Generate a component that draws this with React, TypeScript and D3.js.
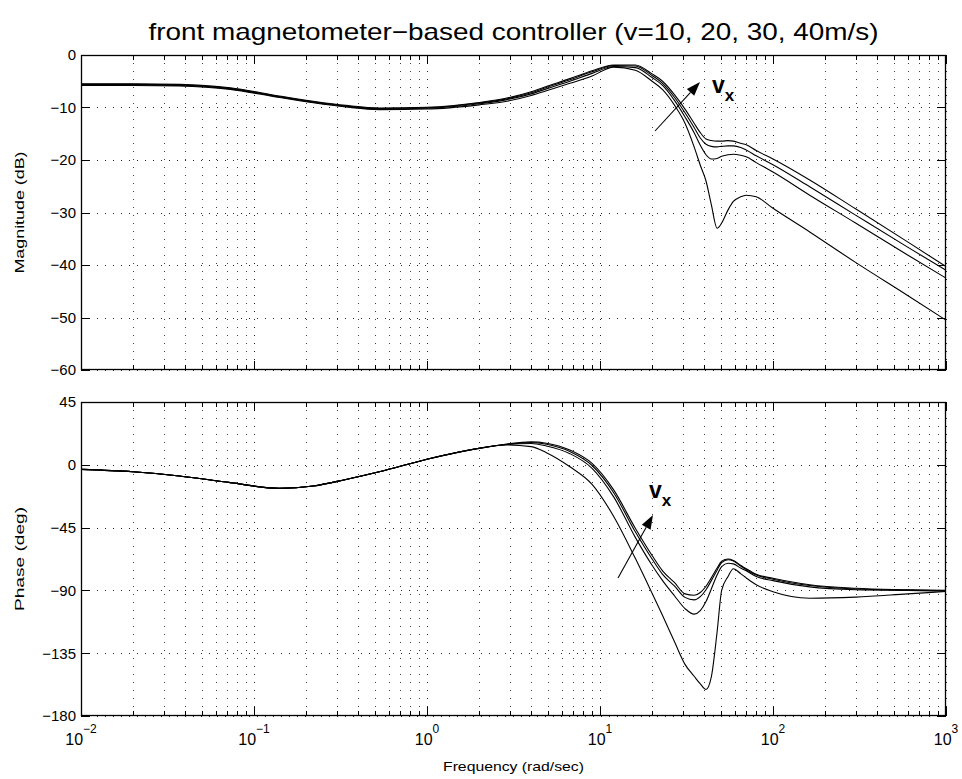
import React from "react";
import * as d3 from "d3";

const title = "front magnetometer\u2212based controller (v=10, 20, 30, 40m/s)";
const xLabel = "Frequency (rad/sec)";
const magLabel = "Magnitude (dB)";
const phLabel = "Phase (deg)";

const freqs = [0.01, 0.02, 0.037, 0.073, 0.14, 0.22, 0.34, 0.53, 1, 2, 2.9, 4, 4.9, 6.7, 9, 12, 16, 20, 23, 27, 31, 35, 38, 41, 44, 47.5, 50.5, 55, 59, 65, 70, 80, 100, 163, 300, 600, 1000];

const magV40 = [-5.5, -5.5, -5.6, -6.25, -7.8, -8.8, -9.6, -10.1, -9.95, -9.05, -8.2, -7.0, -6.0, -4.5, -3.0, -1.9, -1.9, -3.6, -5.0, -7.6, -10.3, -13.0, -14.8, -16.0, -16.3, -16.4, -16.4, -16.3, -16.4, -16.8, -17.1, -18.2, -19.8, -23.8, -29.3, -35.6, -40.3];
const magV30 = [-5.6, -5.6, -5.7, -6.35, -7.9, -8.9, -9.7, -10.2, -10.05, -9.15, -8.35, -7.2, -6.2, -4.7, -3.2, -2.0, -2.1, -3.9, -5.4, -8.1, -11.0, -13.8, -15.8, -17.0, -17.4, -17.5, -17.4, -17.3, -17.3, -17.6, -18.1, -19.2, -20.9, -25.1, -30.5, -36.6, -41.0];
const magV20 = [-5.7, -5.7, -5.8, -6.45, -8.0, -9.0, -9.8, -10.3, -10.15, -9.3, -8.5, -7.4, -6.45, -5.0, -3.5, -2.2, -2.4, -4.3, -5.8, -8.7, -11.8, -14.8, -17.2, -19.0, -19.8, -19.7, -19.3, -19.0, -18.9, -19.1, -19.4, -20.5, -22.3, -26.7, -32.0, -38.1, -42.5];
const magV10 = [-5.8, -5.8, -5.9, -6.55, -8.1, -9.1, -9.9, -10.4, -10.3, -9.5, -8.8, -7.7, -6.8, -5.4, -4.0, -2.3, -2.9, -5.0, -6.6, -9.6, -13.0, -17.5, -21.0, -24.0, -28.5, -33.0, -32.0, -29.5, -27.9, -27.0, -26.7, -27.0, -29.2, -33.7, -39.5, -45.8, -50.5];

const phV40 = [-3.3, -5, -8, -12.8, -16.9, -15.2, -10.5, -5.0, 4.0, 11.8, 14.9, 16.4, 15.5, 10.6, 1, -18, -45.5, -65, -76, -84.5, -92.5, -93.5, -91.5, -87, -81, -74, -69, -67.5, -68.5, -72, -74.5, -78.5, -81.3, -86, -88.5, -89.5, -90];
const phV30 = [-3.3, -5, -8, -12.8, -16.9, -15.2, -10.5, -5.0, 4.0, 11.8, 14.7, 16.0, 14.7, 9.5, -0.5, -20, -48, -67.5, -78.5, -87, -95, -96.8, -94.5, -89.5, -83, -75.5, -70, -68, -69, -72.5, -75, -79, -82, -86.5, -89, -89.8, -90.2];
const phV20 = [-3.3, -5, -8, -12.8, -16.9, -15.2, -10.5, -5.0, 4.0, 11.8, 14.5, 15.3, 13.5, 8, -2.5, -23, -52, -72, -83, -94, -103, -107, -104.5, -98, -89, -79, -73, -70.5, -71, -74, -76, -80, -83, -87.5, -89.5, -90, -90.5];
const phV10 = [-3.3, -5, -8, -12.8, -16.9, -15.2, -10.5, -5.0, 4.0, 11.8, 14.2, 13, 8.7, -1.4, -14, -37, -67, -92, -108, -127, -143, -151.5, -157, -161, -152, -120, -90, -80, -74.5, -78, -81, -86, -91, -95.6, -94.8, -92.5, -90.8];

const xDecades = [-2, -1, 0, 1, 2, 3];
const magTicks = [0, -10, -20, -30, -40, -50, -60];
const phTicks = [45, 0, -45, -90, -135, -180];

const W = 962, H = 779;
const L = 81, R = 946;
const magTop = 55, magBot = 370;
const phTop = 402, phBot = 716;

const FONT = "'Liberation Sans', Arial, Helvetica, sans-serif";

const x = d3.scaleLog().domain([0.01, 1000]).range([L, R]);
const yMag = d3.scaleLinear().domain([-60, 0]).range([magBot, magTop]);
const yPh = d3.scaleLinear().domain([-180, 45]).range([phBot, phTop]);

const minorFreqs: number[] = [];
for (let e = -2; e < 3; e++) for (let m = 2; m <= 9; m++) minorFreqs.push(m * Math.pow(10, e));

const px = (v: number) => Math.round(v) + 0.5;

function Panel({ y, ticks, top, bot, series, labels }: any) {
  const line = d3.line<number>().x((_, i) => x(freqs[i])).y((d) => y(d)).curve(d3.curveMonotoneX);
  return (
    <g>
      {minorFreqs.map((f, i) => (
        <line key={"mg" + i} x1={px(x(f))} x2={px(x(f))} y1={top} y2={bot} stroke="#000" strokeWidth={1} strokeDasharray="1,7" opacity={0.75} />
      ))}
      {xDecades.map((e) => (
        <line key={"dg" + e} x1={px(x(Math.pow(10, e)))} x2={px(x(Math.pow(10, e)))} y1={top} y2={bot} stroke="#000" strokeWidth={1} strokeDasharray="1,7" opacity={0.85} />
      ))}
      {ticks.map((t: number) => (
        <line key={"hg" + t} x1={L} x2={R} y1={px(y(t))} y2={px(y(t))} stroke="#000" strokeWidth={1} strokeDasharray="1,7" opacity={0.85} />
      ))}
      {minorFreqs.map((f, i) => (
        <g key={"mt" + i}>
          <line x1={px(x(f))} x2={px(x(f))} y1={bot} y2={bot - 5} stroke="#000" />
          <line x1={px(x(f))} x2={px(x(f))} y1={top} y2={top + 5} stroke="#000" />
        </g>
      ))}
      {xDecades.map((e) => (
        <g key={"dt" + e}>
          <line x1={px(x(Math.pow(10, e)))} x2={px(x(Math.pow(10, e)))} y1={bot} y2={bot - 9} stroke="#000" />
          <line x1={px(x(Math.pow(10, e)))} x2={px(x(Math.pow(10, e)))} y1={top} y2={top + 9} stroke="#000" />
        </g>
      ))}
      {ticks.map((t: number) => (
        <g key={"yt" + t}>
          <line x1={L} x2={L + 9} y1={px(y(t))} y2={px(y(t))} stroke="#000" />
          <line x1={R} x2={R - 9} y1={px(y(t))} y2={px(y(t))} stroke="#000" />
          <text x={L - 5} y={y(t)} dy="0.36em" textAnchor="end" fontSize={15}>
            {labels(t)}
          </text>
        </g>
      ))}
      {series.map((s: number[], i: number) => (
        <path key={"s" + i} d={line(s) || ""} fill="none" stroke="#000" strokeWidth={1.1} />
      ))}
      <rect x={L + 0.5} y={top + 0.5} width={R - L - 1} height={bot - top - 1} fill="none" stroke="#000" strokeWidth={1.3} />
    </g>
  );
}

function Arrow({ x1, y1, x2, y2 }: any) {
  const ang = Math.atan2(y2 - y1, x2 - x1);
  const len = 14, half = 5;
  const bx = x2 - len * Math.cos(ang), by = y2 - len * Math.sin(ang);
  const p1 = [bx + half * Math.sin(ang), by - half * Math.cos(ang)];
  const p2 = [bx - half * Math.sin(ang), by + half * Math.cos(ang)];
  return (
    <g>
      <line x1={x1} y1={y1} x2={bx} y2={by} stroke="#000" strokeWidth={1.1} />
      <polygon points={`${x2},${y2} ${p1[0]},${p1[1]} ${p2[0]},${p2[1]}`} fill="#000" />
    </g>
  );
}

const fmt = (t: number) => (t < 0 ? "\u2212" + Math.abs(t) : String(t));

export default function App() {
  return (
    <svg width={W} height={H} style={{ position: "absolute", left: 0, top: 0, background: "#fff" }} fontFamily={FONT}>
      <rect x={0} y={0} width={W} height={H} fill="#fff" />
      <text x={(L + R) / 2} y={40} textAnchor="middle" fontSize={24} textLength={730} lengthAdjust="spacingAndGlyphs">{title}</text>
      <Panel y={yMag} ticks={magTicks} top={magTop} bot={magBot} series={[magV40, magV30, magV20, magV10]} labels={fmt} />
      <Panel y={yPh} ticks={phTicks} top={phTop} bot={phBot} series={[phV40, phV30, phV20, phV10]} labels={fmt} />
      {xDecades.map((e) => (
        <text key={"xl" + e} x={x(Math.pow(10, e))} y={745} textAnchor="middle" fontSize={16}>
          10<tspan dy={-12} fontSize={12}>{e < 0 ? "\u2212" + Math.abs(e) : e}</tspan>
        </text>
      ))}
      <text x={(L + R) / 2} y={771} textAnchor="middle" fontSize={13} textLength={141} lengthAdjust="spacingAndGlyphs">{xLabel}</text>
      <text transform={`translate(24,${(magTop + magBot) / 2}) rotate(-90)`} textAnchor="middle" fontSize={13} textLength={122} lengthAdjust="spacingAndGlyphs">{magLabel}</text>
      <text transform={`translate(24,${(phTop + phBot) / 2}) rotate(-90)`} textAnchor="middle" fontSize={13} textLength={104} lengthAdjust="spacingAndGlyphs">{phLabel}</text>
      <Arrow x1={655} y1={131} x2={700} y2={82} />
      <text x={712} y={93} fontSize={23} fontWeight="bold">v<tspan dy={8} fontSize={17}>x</tspan></text>
      <Arrow x1={618} y1={578} x2={653} y2={515} />
      <text x={649} y={498} fontSize={23} fontWeight="bold">v<tspan dy={8} fontSize={17}>x</tspan></text>
    </svg>
  );
}
